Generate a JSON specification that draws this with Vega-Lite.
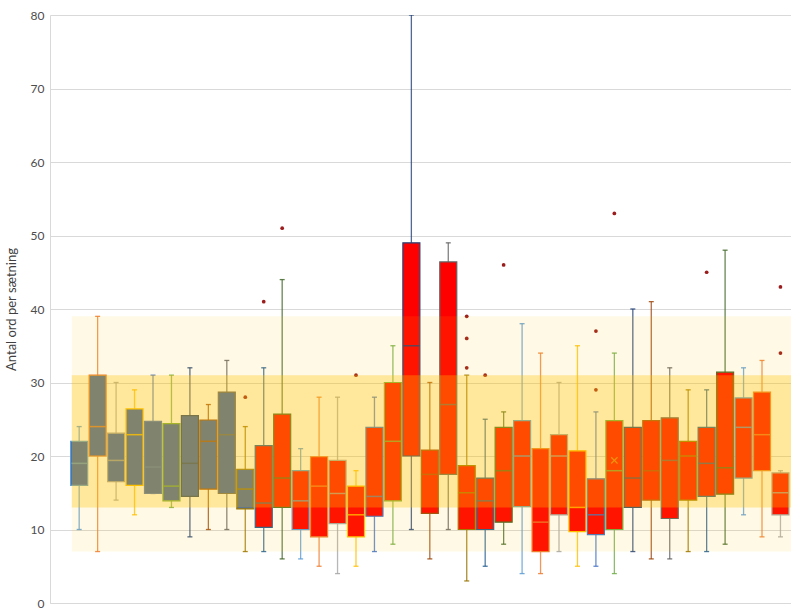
{
  "$schema": "https://vega.github.io/schema/vega-lite/v6.json",
  "autosize": "none",
  "width": 741,
  "height": 588,
  "padding": {"left": 50, "top": 15, "right": 0, "bottom": 10},
  "background": "white",
  "config": {
    "view": {"stroke": null},
    "font": "Lato"
  },
  "datasets": {
    "boxes": [
      {"i": 1, "grp": "A", "lo": 10, "q1": 16, "med": 19, "q3": 22, "hi": 24},
      {"i": 2, "grp": "A", "lo": 7, "q1": 20, "med": 24, "q3": 31, "hi": 39},
      {"i": 3, "grp": "A", "lo": 14, "q1": 16.5, "med": 19.4, "q3": 23.1, "hi": 30},
      {"i": 4, "grp": "A", "lo": 12, "q1": 16, "med": 22.9, "q3": 26.4, "hi": 29},
      {"i": 5, "grp": "A", "lo": 14.9, "q1": 14.9, "med": 18.5, "q3": 24.7, "hi": 31},
      {"i": 6, "grp": "A", "lo": 13, "q1": 13.9, "med": 15.9, "q3": 24.4, "hi": 31},
      {"i": 7, "grp": "A", "lo": 9, "q1": 14.5, "med": 19, "q3": 25.5, "hi": 32},
      {"i": 8, "grp": "A", "lo": 10, "q1": 15.5, "med": 22, "q3": 24.9, "hi": 27},
      {"i": 9, "grp": "A", "lo": 10, "q1": 14.9, "med": 22.9, "q3": 28.7, "hi": 33},
      {"i": 10, "grp": "A", "lo": 7, "q1": 12.8, "med": 15.5, "q3": 18.2, "hi": 24},
      {"i": 11, "grp": "B", "lo": 7, "q1": 10.3, "med": 13.6, "q3": 21.4, "hi": 32},
      {"i": 12, "grp": "B", "lo": 6, "q1": 13, "med": 17, "q3": 25.7, "hi": 44},
      {"i": 13, "grp": "B", "lo": 6, "q1": 10, "med": 13.9, "q3": 18, "hi": 21},
      {"i": 14, "grp": "B", "lo": 5, "q1": 9, "med": 15.9, "q3": 19.9, "hi": 28},
      {"i": 15, "grp": "B", "lo": 4, "q1": 10.8, "med": 14.9, "q3": 19.4, "hi": 28},
      {"i": 16, "grp": "B", "lo": 5, "q1": 9, "med": 12, "q3": 15.9, "hi": 18},
      {"i": 17, "grp": "B", "lo": 7, "q1": 11.8, "med": 14.5, "q3": 23.9, "hi": 28},
      {"i": 18, "grp": "B", "lo": 8, "q1": 13.9, "med": 22, "q3": 30, "hi": 35},
      {"i": 19, "grp": "B", "lo": 10, "q1": 20, "med": 35, "q3": 49, "hi": 80},
      {"i": 20, "grp": "B", "lo": 6, "q1": 12.2, "med": 17.5, "q3": 20.8, "hi": 30},
      {"i": 21, "grp": "B", "lo": 10, "q1": 17.5, "med": 27, "q3": 46.4, "hi": 49},
      {"i": 22, "grp": "B", "lo": 3, "q1": 10, "med": 15, "q3": 18.7, "hi": 31},
      {"i": 23, "grp": "B", "lo": 5, "q1": 10, "med": 13.9, "q3": 17, "hi": 25},
      {"i": 24, "grp": "B", "lo": 8, "q1": 11, "med": 18, "q3": 23.9, "hi": 26},
      {"i": 25, "grp": "B", "lo": 4, "q1": 13.1, "med": 20, "q3": 24.8, "hi": 38},
      {"i": 26, "grp": "B", "lo": 4, "q1": 7, "med": 11, "q3": 21, "hi": 34},
      {"i": 27, "grp": "B", "lo": 7, "q1": 12, "med": 20, "q3": 22.9, "hi": 30},
      {"i": 28, "grp": "B", "lo": 5, "q1": 9.7, "med": 13, "q3": 20.7, "hi": 35},
      {"i": 29, "grp": "B", "lo": 5, "q1": 9.3, "med": 12, "q3": 16.9, "hi": 26},
      {"i": 30, "grp": "B", "lo": 4, "q1": 10, "med": 18, "q3": 24.8, "hi": 34},
      {"i": 31, "grp": "B", "lo": 7, "q1": 13, "med": 17, "q3": 23.9, "hi": 40},
      {"i": 32, "grp": "B", "lo": 6, "q1": 14, "med": 18, "q3": 24.8, "hi": 41},
      {"i": 33, "grp": "B", "lo": 6, "q1": 11.5, "med": 19.4, "q3": 25.2, "hi": 32},
      {"i": 34, "grp": "B", "lo": 7, "q1": 14, "med": 20, "q3": 22, "hi": 29},
      {"i": 35, "grp": "B", "lo": 7, "q1": 14.5, "med": 19, "q3": 23.9, "hi": 29},
      {"i": 36, "grp": "B", "lo": 8, "q1": 14.8, "med": 18.4, "q3": 31.4, "hi": 48},
      {"i": 37, "grp": "B", "lo": 12, "q1": 17, "med": 23.9, "q3": 27.9, "hi": 32},
      {"i": 38, "grp": "B", "lo": 9, "q1": 18, "med": 22.9, "q3": 28.7, "hi": 33},
      {"i": 39, "grp": "B", "lo": 9, "q1": 12, "med": 15, "q3": 17.7, "hi": 18}
    ],
    "outliers": [
      {"i": 10, "v": 28}, {"i": 11, "v": 41}, {"i": 12, "v": 51}, {"i": 16, "v": 31},
      {"i": 22, "v": 32}, {"i": 22, "v": 36}, {"i": 22, "v": 39}, {"i": 23, "v": 31},
      {"i": 24, "v": 46}, {"i": 29, "v": 29}, {"i": 29, "v": 37}, {"i": 30, "v": 53},
      {"i": 35, "v": 45}, {"i": 39, "v": 34}, {"i": 39, "v": 43}
    ],
    "means": [{"i": 30, "mean": 19.4}],
    "bands": [
      {"band": "ydre", "from": 0.6, "to": 40, "lo": 7, "hi": 39},
      {"band": "indre", "from": 0.6, "to": 40, "lo": 13, "hi": 31}
    ]
  },
  "layer": [
    {
      "data": {"name": "boxes"},
      "mark": {"type": "rule", "strokeWidth": 1.3, "opacity": 0.8, "clip": true},
      "encoding": {
        "x": {
          "field": "i", "type": "quantitative",
          "scale": {"domain": [-0.31, 39.3], "nice": false, "zero": false},
          "axis": {"labels": false, "ticks": false, "grid": false, "title": null, "domainColor": "#d9d9d9", "domainWidth": 1}
        },
        "y": {
          "field": "lo", "type": "quantitative",
          "scale": {"domain": [0, 80], "nice": false},
          "axis": {
            "values": [0, 10, 20, 30, 40, 50, 60, 70, 80],
            "title": "Antal ord per sætning",
            "titleFont": "Lato", "titleFontSize": 13, "titleFontWeight": "normal", "titleColor": "#404040", "titlePadding": 12,
            "labelFont": "Lato", "labelFontSize": 12, "labelColor": "#4d4d4d", "labelPadding": 6,
            "ticks": false, "grid": true, "gridColor": "#d9d9d9", "gridWidth": 1,
            "domainColor": "#d9d9d9", "domainWidth": 1
          }
        },
        "y2": {"field": "hi"},
        "color": {
          "field": "i", "type": "ordinal", "legend": null,
          "scale": {"range": ["#5B9BD5", "#ED7D31", "#A5A5A5", "#FFC000", "#4472C4", "#70AD47", "#264478", "#9E480E", "#636363", "#997300", "#255E91", "#43682B"]}
        }
      }
    },
    {
      "data": {"name": "boxes"},
      "mark": {"type": "tick", "orient": "horizontal", "size": 5, "thickness": 1.3, "opacity": 0.85, "clip": true},
      "encoding": {
        "x": {"field": "i", "type": "quantitative"},
        "y": {"field": "lo", "type": "quantitative"},
        "color": {"field": "i", "type": "ordinal", "legend": null}
      }
    },
    {
      "data": {"name": "boxes"},
      "mark": {"type": "tick", "orient": "horizontal", "size": 5, "thickness": 1.3, "opacity": 0.85, "clip": true},
      "encoding": {
        "x": {"field": "i", "type": "quantitative"},
        "y": {"field": "hi", "type": "quantitative"},
        "color": {"field": "i", "type": "ordinal", "legend": null}
      }
    },
    {
      "data": {"name": "boxes"},
      "mark": {"type": "bar", "width": 17, "strokeWidth": 1.2, "clip": true},
      "encoding": {
        "x": {"field": "i", "type": "quantitative"},
        "y": {"field": "q1", "type": "quantitative"},
        "y2": {"field": "q3"},
        "fill": {"field": "grp", "type": "nominal", "legend": null, "scale": {"domain": ["A", "B"], "range": ["#2F5EB7", "#FF0000"]}},
        "stroke": {"field": "i", "type": "ordinal", "legend": null, "scale": {"range": ["#5B9BD5", "#ED7D31", "#A5A5A5", "#FFC000", "#4472C4", "#70AD47", "#264478", "#9E480E", "#636363", "#997300", "#255E91", "#43682B"]}}
      }
    },
    {
      "data": {"name": "boxes"},
      "mark": {"type": "tick", "orient": "horizontal", "size": 16, "thickness": 1.5, "opacity": 0.8, "clip": true},
      "encoding": {
        "x": {"field": "i", "type": "quantitative"},
        "y": {"field": "med", "type": "quantitative"},
        "color": {"field": "i", "type": "ordinal", "legend": null}
      }
    },
    {
      "data": {"name": "outliers"},
      "mark": {"type": "circle", "size": 14, "color": "#9B1C1C", "opacity": 1, "clip": true},
      "encoding": {
        "x": {"field": "i", "type": "quantitative"},
        "y": {"field": "v", "type": "quantitative"}
      }
    },
    {
      "data": {"name": "means"},
      "mark": {"type": "point", "shape": "M-1,-1L1,1M-1,1L1,-1", "size": 40, "filled": false, "stroke": "#D9A520", "strokeWidth": 1.3, "clip": true},
      "encoding": {
        "x": {"field": "i", "type": "quantitative"},
        "y": {"field": "mean", "type": "quantitative"}
      }
    },
    {
      "data": {"name": "bands"},
      "mark": {"type": "rect", "fill": "#FFC000", "clip": true},
      "encoding": {
        "x": {"field": "from", "type": "quantitative"},
        "x2": {"field": "to"},
        "y": {"field": "lo", "type": "quantitative"},
        "y2": {"field": "hi"},
        "fillOpacity": {"field": "band", "type": "nominal", "legend": null, "scale": {"domain": ["ydre", "indre"], "range": [0.1, 0.32]}}
      }
    }
  ]
}
